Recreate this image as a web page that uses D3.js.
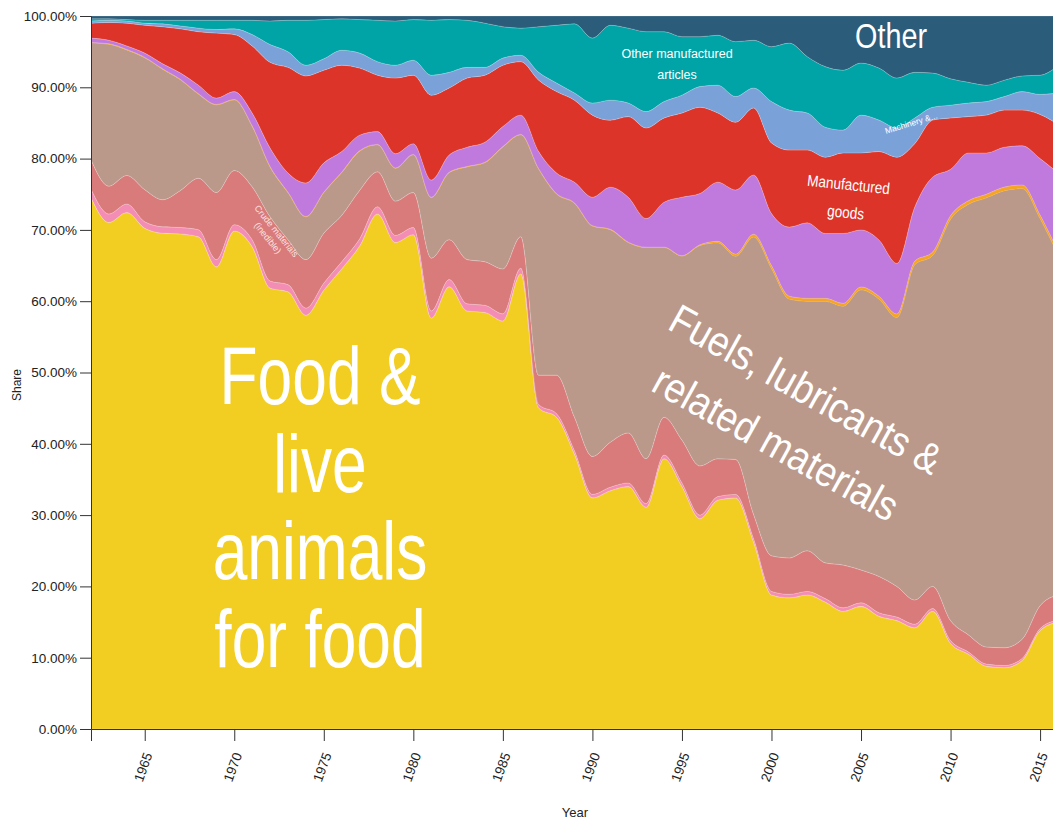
<!DOCTYPE html>
<html>
<head>
<meta charset="utf-8">
<script src="https://cdn.jsdelivr.net/npm/d3@7"></script>
<style>
  body { margin: 0; background: #fff; overflow: hidden; }
  svg { display: block; }
  text { font-family: "Liberation Sans", Arial, Helvetica, sans-serif; }
  .axis text { font-size: 13.5px; fill: #222; }
  .axis path, .axis line { stroke: #333; }
</style>
</head>
<body>
<div id="chart"></div>
<script>
// share of exports by product group, in percent
const years = [1962, 1963, 1964, 1965, 1966, 1967, 1968, 1969, 1970, 1971,
    1972, 1973, 1974, 1975, 1976, 1977, 1978, 1979, 1980, 1981,
    1982, 1983, 1984, 1985, 1986, 1987, 1988, 1989, 1990, 1991,
    1992, 1993, 1994, 1995, 1996, 1997, 1998, 1999, 2000, 2001,
    2002, 2003, 2004, 2005, 2006, 2007, 2008, 2009, 2010, 2011,
    2012, 2013, 2014, 2015, 2016];

const food = [74.5, 71.0, 72.4, 70.2, 69.5, 69.4, 69.0, 64.8, 69.8, 67.6,
    61.8, 61.3, 58.0, 61.5, 64.5, 67.7, 72.2, 68.2, 69.3, 57.6,
    62.0, 58.6, 58.4, 57.2, 63.8, 45.0, 43.7, 38.5, 32.4, 33.4,
    34.0, 31.1, 37.9, 34.0, 29.5, 32.1, 32.4, 26.2, 18.8, 18.4,
    18.8, 17.8, 16.5, 17.2, 15.8, 15.2, 14.2, 16.5, 12.0, 10.5,
    8.8, 8.6, 9.6, 13.8, 15.0];
const beverages = [1.2, 1.2, 1.2, 0.9, 0.9, 0.9, 1.0, 1.0, 0.9, 1.0,
    1.0, 1.0, 1.0, 1.0, 1.0, 1.0, 1.0, 1.0, 1.0, 1.0,
    1.0, 1.0, 1.0, 1.0, 0.8, 0.5, 0.5, 0.5, 0.5, 0.5,
    0.5, 0.5, 0.5, 0.5, 0.5, 0.5, 0.5, 0.5, 0.5, 0.5,
    0.5, 0.5, 0.5, 0.5, 0.5, 0.5, 0.5, 0.4, 0.4, 0.3,
    0.3, 0.3, 0.3, 0.3, 0.3];
const crude = [4.1, 3.9, 4.0, 4.5, 3.8, 5.2, 7.2, 9.4, 7.6, 7.4,
    9.0, 6.3, 6.8, 7.0, 6.5, 6.8, 4.9, 4.8, 4.9, 7.4,
    5.6, 6.2, 6.1, 6.3, 4.4, 4.1, 5.4, 4.7, 5.3, 6.3,
    7.0, 6.3, 5.3, 6.0, 6.9, 5.3, 4.9, 3.4, 5.0, 5.1,
    5.7, 5.0, 6.0, 4.6, 5.1, 4.3, 3.4, 3.1, 2.8, 2.4,
    2.4, 2.5, 2.7, 3.2, 3.5];
const fuels = [16.4, 19.9, 17.6, 18.5, 18.3, 15.5, 11.8, 12.3, 9.9, 8.5,
    7.0, 6.6, 6.0, 5.7, 6.0, 5.5, 3.8, 4.6, 5.3, 8.5,
    9.4, 13.0, 13.9, 17.1, 14.3, 28.9, 25.4, 30.0, 32.3, 29.8,
    26.7, 29.6, 23.8, 25.8, 30.9, 30.3, 28.5, 38.9, 40.3, 36.3,
    35.0, 36.7, 36.3, 39.3, 38.9, 37.7, 47.0, 46.4, 56.3, 60.4,
    63.0, 64.1, 63.2, 54.3, 47.7];
const oils = [0.05, 0.05, 0.05, 0.05, 0.05, 0.05, 0.05, 0.05, 0.05, 0.05,
    0.05, 0.05, 0.05, 0.05, 0.05, 0.05, 0.05, 0.05, 0.05, 0.05,
    0.05, 0.05, 0.05, 0.05, 0.05, 0.05, 0.05, 0.05, 0.05, 0.05,
    0.05, 0.05, 0.05, 0.05, 0.1, 0.2, 0.3, 0.4, 0.4, 0.4,
    0.4, 0.4, 0.4, 0.4, 0.4, 0.5, 0.5, 0.5, 0.5, 0.5,
    0.5, 0.5, 0.5, 0.5, 0.5];
const chemicals = [0.6, 0.5, 0.5, 0.6, 0.7, 0.9, 1.2, 0.9, 1.1, 1.8,
    2.6, 2.7, 4.7, 4.1, 2.9, 2.2, 1.8, 2.0, 1.5, 2.4,
    2.4, 2.7, 2.8, 2.8, 2.7, 2.4, 2.9, 2.9, 4.0, 5.9,
    6.3, 4.0, 6.3, 8.2, 7.2, 8.3, 9.0, 8.3, 7.3, 9.7,
    10.6, 9.1, 9.8, 8.0, 7.9, 7.1, 7.6, 10.5, 6.5, 6.7,
    5.8, 5.6, 5.5, 7.9, 11.0];
const manufactured = [2.1, 2.5, 3.2, 3.9, 5.2, 6.2, 7.5, 9.1, 8.0, 9.4,
    12.0, 14.8, 15.0, 13.0, 12.1, 9.4, 7.9, 10.6, 9.6, 11.9,
    9.4, 9.7, 9.4, 8.6, 7.5, 10.0, 11.4, 11.5, 11.5, 9.4,
    11.3, 12.7, 11.8, 11.8, 12.1, 9.7, 9.5, 9.4, 9.9, 10.8,
    10.2, 10.7, 11.3, 10.8, 12.4, 14.9, 8.9, 8.0, 7.2, 5.1,
    5.3, 5.2, 5.0, 6.2, 6.8];
const machinery = [0.3, 0.3, 0.3, 0.3, 0.4, 0.4, 0.5, 0.5, 0.8, 1.6,
    2.5, 2.2, 1.5, 1.6, 2.1, 2.1, 1.9, 1.8, 2.1, 2.8,
    2.2, 1.5, 1.1, 1.0, 0.9, 1.1, 1.2, 1.0, 1.7, 2.8,
    1.9, 2.3, 2.3, 2.5, 2.9, 3.9, 3.6, 2.8, 5.8, 5.6,
    5.2, 4.2, 3.2, 5.3, 4.4, 4.1, 3.6, 1.8, 1.8, 1.9,
    1.9, 1.9, 2.6, 2.8, 4.4];
const otherManufactured = [0.3, 0.2, 0.2, 0.4, 0.5, 0.8, 1.1, 1.3, 1.2, 2.0,
    3.3, 4.4, 6.3, 5.5, 4.4, 4.7, 5.8, 6.2, 5.7, 7.7,
    7.4, 6.6, 6.2, 4.4, 3.8, 6.4, 8.1, 9.7, 9.1, 10.5,
    10.5, 11.2, 9.8, 8.2, 7.0, 7.0, 7.7, 6.7, 7.7, 9.4,
    7.9, 8.5, 8.4, 7.3, 7.3, 7.0, 6.4, 4.8, 3.7, 2.9,
    2.3, 2.3, 2.2, 2.7, 3.8];
const other = [0.4, 0.4, 0.5, 0.6, 0.6, 0.6, 0.6, 0.6, 0.6, 0.6,
    0.7, 0.6, 0.6, 0.5, 0.4, 0.5, 0.6, 0.7, 0.5, 0.6,
    0.5, 0.6, 1.0, 1.5, 1.7, 1.5, 1.3, 1.1, 3.1, 1.3,
    1.7, 2.2, 2.2, 2.9, 2.9, 2.7, 3.6, 3.4, 4.3, 3.8,
    5.7, 7.1, 7.6, 6.6, 7.3, 8.7, 7.9, 8.0, 8.8, 9.3,
    9.7, 9.0, 8.4, 8.3, 7.0];

const seriesKeys = ['food', 'beverages', 'crude', 'fuels', 'oils',
    'chemicals', 'manufactured', 'machinery', 'otherManufactured', 'other'];
const seriesValues = {
    food, beverages, crude, fuels, oils, chemicals, manufactured, machinery, otherManufactured, other,
};
const colors = {
    food: '#f3ce22',
    beverages: '#f48db4',
    crude: '#d97b7b',
    fuels: '#ba998b',
    oils: '#f5a524',
    chemicals: '#c07ade',
    manufactured: '#dc3429',
    machinery: '#7ba1d9',
    otherManufactured: '#00a3a6',
    other: '#2b5c7a',
};
const yTicks = [0, 0.1, 0.2, 0.3, 0.4, 0.5, 0.6, 0.7, 0.8, 0.9, 1];
const xTicks = [1965, 1970, 1975, 1980, 1985, 1990, 1995, 2000, 2005, 2010, 2015];

const outerWidth = 1053;
const outerHeight = 821;
const margin = { top: 16, left: 91, bottom: 92 };
const plotHeight = outerHeight - margin.top - margin.bottom;
const plotWidth = 967; // runs a little past the window edge, like the original

const table = years.map((year, i) => {
    const row = { year };
    seriesKeys.forEach((k) => { row[k] = seriesValues[k][i]; });
    return row;
});

const stacked = d3.stack()
    .keys(seriesKeys)
    .offset(d3.stackOffsetExpand)(table);

const x = d3.scaleLinear()
    .domain([1962, 2016])
    .range([0, plotWidth]);
const y = d3.scaleLinear()
    .domain([0, 1])
    .range([plotHeight, 0]);

const svg = d3.select('#chart').append('svg')
    .attr('width', outerWidth)
    .attr('height', outerHeight);

const g = svg.append('g')
    .attr('transform', `translate(${margin.left},${margin.top})`);

const area = d3.area()
    .curve(d3.curveMonotoneX)
    .x((d) => x(d.data.year))
    .y0((d) => y(d[0]))
    .y1((d) => y(d[1]));

g.append('g').selectAll('path')
    .data(stacked)
    .enter()
    .append('path')
    .attr('d', area)
    .attr('fill', (d) => colors[d.key])
    .attr('stroke', (d) => (d.key === 'oils' ? colors.oils : 'rgba(255,255,255,0.3)'))
    .attr('stroke-width', (d) => (d.key === 'oils' ? 0.4 : 0.6));

// axes
const yAxisG = g.append('g')
    .attr('class', 'axis y')
    .call(d3.axisLeft(y).tickValues(yTicks).tickFormat(d3.format('.2%')).tickSize(11).tickPadding(3));
yAxisG.select('.domain').attr('stroke', '#666');

const xAxisG = g.append('g')
    .attr('class', 'axis x')
    .attr('transform', `translate(0,${plotHeight})`)
    .call(d3.axisBottom(x).tickValues(xTicks).tickFormat(d3.format('d')).tickSize(12));
xAxisG.select('.domain').attr('stroke', '#888');
xAxisG.selectAll('text')
    .attr('x', 0)
    .attr('y', 0)
    .attr('dy', '0.35em')
    .attr('text-anchor', 'end')
    .attr('transform', 'translate(3,24) rotate(-70)');

svg.append('text')
    .attr('transform', 'translate(21,385) rotate(-90)')
    .attr('text-anchor', 'middle')
    .attr('font-size', 12)
    .attr('fill', '#222')
    .text('Share');

svg.append('text')
    .attr('x', 575)
    .attr('y', 817)
    .attr('text-anchor', 'middle')
    .attr('font-size', 13)
    .attr('fill', '#222')
    .text('Year');

// labels placed on the areas
const labels = svg.append('g').attr('fill', '#fff').attr('text-anchor', 'middle');

const bigLine = (txt, cx, base, size, sx) => {
    labels.append('text')
        .attr('transform', `translate(${cx},${base}) scale(${sx},1)`)
        .attr('font-size', size)
        .text(txt);
};
['Food &', 'live', 'animals', 'for food'].forEach((t, i) => {
    bigLine(t, 320, 404 + i * 87.5, 82, 0.76);
});
bigLine('Other', 891, 48, 36, 0.8);

const tilted = (lines, cx, cy, angle, size, gap, sx, fill) => {
    const t = labels.append('g')
        .attr('transform', `translate(${cx},${cy}) rotate(${angle}) scale(${sx},1)`);
    lines.forEach((l, i) => {
        t.append('text')
            .attr('y', i * gap)
            .attr('font-size', size)
            .attr('fill', fill || '#fff')
            .text(l);
    });
};
tilted(['Fuels, lubricants &', 'related materials'], 799, 402, 29, 42, 62, 0.88);
tilted(['Manufactured', 'goods'], 848, 190, 6, 16, 28, 0.85);
tilted(['Other manufactured', 'articles'], 677, 58, 0, 12.5, 21, 1);
tilted(['Machinery &...'], 912, 126, -17, 8.5, 0, 1);
tilted(['Crude materials', '(inedible)'], 274, 233, 51, 9, 11, 1, '#fbe3e3');
</script>
</body>
</html>
